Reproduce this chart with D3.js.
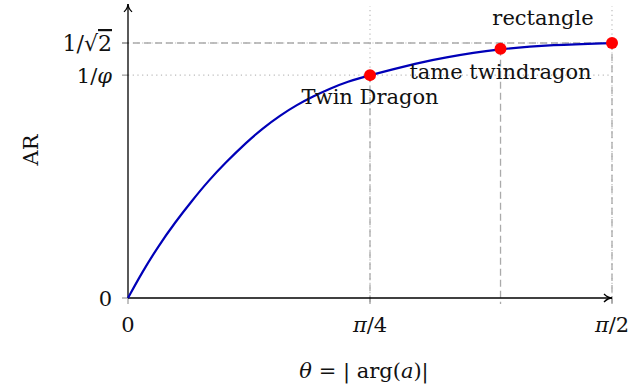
<!DOCTYPE html>
<html>
<head>
<meta charset="utf-8">
<script src="https://cdn.jsdelivr.net/npm/d3@7"></script>
<style>
  body { margin: 0; background: #fff; }
  svg text { font-family: "DejaVu Serif", serif; fill: #111; }
  .it { font-style: italic; }
</style>
</head>
<body>
<div id="chart"></div>
<script>
// Curve: theta (radians) and aspect ratio
var curveTheta = [0, 0.045, 0.097, 0.153, 0.208, 0.260, 0.315, 0.386, 0.438, 0.493, 0.549, 0.600, 0.656, 0.711, 0.785, 0.948, 1.013, 1.204, 1.379, 1.571];
var curveAR    = [0, 0.070, 0.142, 0.210, 0.270, 0.324, 0.374, 0.433, 0.471, 0.506, 0.536, 0.559, 0.581, 0.600, 0.618, 0.653, 0.665, 0.691, 0.702, 0.707];

// Marked points
var pointNames = ["Twin Dragon", "tame twindragon", "rectangle"];
var pointTheta = [Math.PI / 4, 1.209, Math.PI / 2];
var pointAR    = [0.618, 0.691, 0.7071];

// Ticks
var xTicks = [0, Math.PI / 4, Math.PI / 2];
var xTickLabels = ["0", "π/4", "π/2"];
var yTicks = [0, 0.618, 0.7071];

var w = 634;
var h = 392;
var fs = "21px";

var svg = d3.select("#chart")
    .append("svg")
    .attr("width", w)
    .attr("height", h);

var x = d3.scaleLinear().domain([0, Math.PI / 2]).range([128, 612]);
var y = d3.scaleLinear().domain([0, 0.7071]).range([298, 43]);
var yTop = y(0.81);

// dotted grid at the ticks
svg.selectAll("line.vgrid")
    .data(xTicks.slice(1))
    .enter().append("line")
    .attr("x1", d => x(d)).attr("x2", d => x(d))
    .attr("y1", y(0)).attr("y2", yTop)
    .attr("stroke", "#bbb").attr("stroke-width", 1.2)
    .attr("stroke-dasharray", "1.2,3.5");

svg.selectAll("line.hgrid")
    .data(yTicks.slice(1))
    .enter().append("line")
    .attr("x1", x(0)).attr("x2", x(Math.PI / 2))
    .attr("y1", d => y(d)).attr("y2", d => y(d))
    .attr("stroke", "#bbb").attr("stroke-width", 1.2)
    .attr("stroke-dasharray", "1.2,3.5");

// dashed drop lines from each point to the x axis
svg.selectAll("line.drop")
    .data(pointTheta)
    .enter().append("line")
    .attr("x1", d => x(d)).attr("x2", d => x(d))
    .attr("y1", (d, i) => y(pointAR[i])).attr("y2", y(0) + 6)
    .attr("stroke", "#aaa").attr("stroke-width", 1.3)
    .attr("stroke-dasharray", "7,4");

// dashed line from the y axis to the rectangle point
svg.append("line")
    .attr("x1", x(0) - 6).attr("x2", x(Math.PI / 2))
    .attr("y1", y(pointAR[2])).attr("y2", y(pointAR[2]))
    .attr("stroke", "#aaa").attr("stroke-width", 1.3)
    .attr("stroke-dasharray", "7,4");

// small tick marks
svg.selectAll("line.ytick")
    .data(yTicks)
    .enter().append("line")
    .attr("x1", x(0) - 6).attr("x2", x(0))
    .attr("y1", d => y(d)).attr("y2", d => y(d))
    .attr("stroke", "#999").attr("stroke-width", 1.2);

svg.selectAll("line.xtick")
    .data(xTicks)
    .enter().append("line")
    .attr("x1", d => x(d)).attr("x2", d => x(d))
    .attr("y1", y(0)).attr("y2", y(0) + 6)
    .attr("stroke", "#999").attr("stroke-width", 1.2);

// arrow heads
var defs = svg.append("defs");
defs.append("marker")
    .attr("id", "arrow")
    .attr("viewBox", "0 0 10 10")
    .attr("refX", 9).attr("refY", 5)
    .attr("markerWidth", 10).attr("markerHeight", 10)
    .attr("markerUnits", "userSpaceOnUse")
    .attr("orient", "auto")
    .append("path")
    .attr("d", "M1,1 Q5,5 9,5 Q5,5 1,9")
    .attr("fill", "none")
    .attr("stroke", "#000")
    .attr("stroke-width", 1.3);

// axes
svg.append("line")
    .attr("x1", x(0)).attr("x2", x(Math.PI / 2))
    .attr("y1", y(0)).attr("y2", y(0))
    .attr("stroke", "#000").attr("stroke-width", 1.3)
    .attr("marker-end", "url(#arrow)");

svg.append("line")
    .attr("x1", x(0)).attr("x2", x(0))
    .attr("y1", y(0)).attr("y2", yTop - 2)
    .attr("stroke", "#000").attr("stroke-width", 1.3)
    .attr("marker-end", "url(#arrow)");

// the curve
var line = d3.line()
    .x((d, i) => x(curveTheta[i]))
    .y((d, i) => y(curveAR[i]))
    .curve(d3.curveBasis);

svg.append("path")
    .datum(curveAR)
    .attr("d", line)
    .attr("fill", "none")
    .attr("stroke", "#0000b8")
    .attr("stroke-width", 2.2);

// points
svg.selectAll("circle")
    .data(pointTheta)
    .enter().append("circle")
    .attr("cx", d => x(d))
    .attr("cy", (d, i) => y(pointAR[i]))
    .attr("r", 6)
    .attr("fill", "#ff0000");

// point labels
var labelPos = [
    { dx: 0, dy: 29, anchor: "middle" },
    { dx: 0, dy: 30, anchor: "middle" },
    { dx: -69, dy: -18, anchor: "middle" }
];
svg.selectAll("text.plabel")
    .data(pointNames)
    .enter().append("text")
    .attr("x", (d, i) => x(pointTheta[i]) + labelPos[i].dx)
    .attr("y", (d, i) => y(pointAR[i]) + labelPos[i].dy)
    .attr("text-anchor", (d, i) => labelPos[i].anchor)
    .style("font-size", fs)
    .text(d => d);

// x tick labels
svg.selectAll("text.xlabel")
    .data(xTicks)
    .enter().append("text")
    .attr("x", d => x(d))
    .attr("y", y(0) + 34)
    .attr("text-anchor", "middle")
    .style("font-size", fs)
    .each(function(d, i) {
        var t = d3.select(this);
        var lab = xTickLabels[i];
        if (lab.charAt(0) === "π") {
            t.append("tspan").attr("class", "it").text("π");
            t.append("tspan").text(lab.slice(1));
        } else {
            t.text(lab);
        }
    });

// y tick labels
svg.append("text")
    .attr("x", 112).attr("y", y(yTicks[0]) + 8)
    .attr("text-anchor", "end")
    .style("font-size", fs)
    .text("0");

var yl1 = svg.append("text")
    .attr("x", 112).attr("y", y(yTicks[1]) + 8)
    .attr("text-anchor", "end")
    .style("font-size", fs);
yl1.append("tspan").text("1/");
yl1.append("tspan").attr("class", "it").text("φ");

var yl2 = svg.append("text")
    .attr("x", 112).attr("y", y(yTicks[2]) + 8)
    .attr("text-anchor", "end")
    .style("font-size", "22px");
yl2.append("tspan").text("1/√");
yl2.append("tspan").style("text-decoration", "overline").text("2");

// axis titles
var xt = svg.append("text")
    .attr("x", 364).attr("y", 378)
    .attr("text-anchor", "middle")
    .style("font-size", fs)
    .attr("xml:space", "preserve");
xt.append("tspan").attr("class", "it").text("θ");
xt.append("tspan").text(" = | arg(");
xt.append("tspan").attr("class", "it").text("a");
xt.append("tspan").text(")|");

svg.append("text")
    .attr("transform", "translate(38,150) rotate(-90)")
    .attr("text-anchor", "middle")
    .style("font-size", fs)
    .text("AR");
</script>
</body>
</html>
